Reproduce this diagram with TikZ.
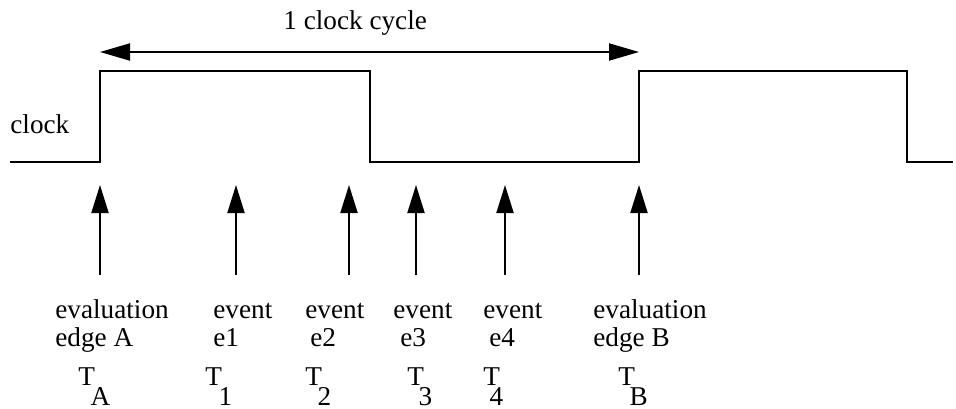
\documentclass[tikz,border=0pt]{standalone}
\usepackage{fontspec}
\setmainfont{Liberation Serif}
\usetikzlibrary{arrows.meta}
\begin{document}
\begin{tikzpicture}[x=0.5pt,y=-0.5pt,
  lbl/.style={inner sep=0pt,anchor=base west,font=\fontsize{13.6}{16}\selectfont},
  wave/.style={line width=1pt,line join=miter},
  pointer/.style={line width=1pt,-{Triangle[length=14pt,width=8.5pt]}},
  span/.style={line width=1pt,{Triangle[length=15pt,width=8.5pt]}-{Triangle[length=15pt,width=8.5pt]}}]
\useasboundingbox (0,0) rectangle (956,408);

% clock waveform
\draw[wave] (10,162) -- (100,162) -- (100,71) -- (370,71) -- (370,162)
  -- (639,162) -- (639,71) -- (907,71) -- (907,162) -- (953,162);
\node[lbl] (clk) at (10,133) {clock};

% one clock cycle span
\coordinate (cycL) at (100,52);
\coordinate (cycR) at (639,52);
\draw[span] (cycL) -- (cycR);
\node[lbl] (cyc) at (283,29) {1 clock cycle};

% instants marked below the waveform
\foreach \n/\x in {A/100, e1/236, e2/349, e3/416, e4/505, B/639}{
  \coordinate (tail\n) at (\x,275);
  \coordinate (tip\n) at (\x,185);
  \draw[pointer] (tail\n) -- (tip\n);
}

% labels
\node[lbl] (evA1) at (55,318) {evaluation};
\node[lbl] (evA2) at (55,346) {edge A};
\node[lbl] (ev11) at (213,318) {event};
\node[lbl] (ev12) at (213,346) {e1};
\node[lbl] (ev21) at (305,318) {event};
\node[lbl] (ev22) at (310,346) {e2};
\node[lbl] (ev31) at (393,318) {event};
\node[lbl] (ev32) at (400,346) {e3};
\node[lbl] (ev41) at (483,318) {event};
\node[lbl] (ev42) at (489,346) {e4};
\node[lbl] (evB1) at (593,318) {evaluation};
\node[lbl] (evB2) at (593,346) {edge B};

% time stamps: T with its index set low beside it
\foreach \n/\tx/\k in {A/78/-2.2, 1/205/-1.7, 2/305/-2.2, 3/407/-2.7, 4/483/-5.2, B/618/-2.7}{
  \node[lbl] (T\n) at (\tx,385) {T\kern\k pt\raisebox{-10pt}{\n}};
}
\end{tikzpicture}
\end{document}
